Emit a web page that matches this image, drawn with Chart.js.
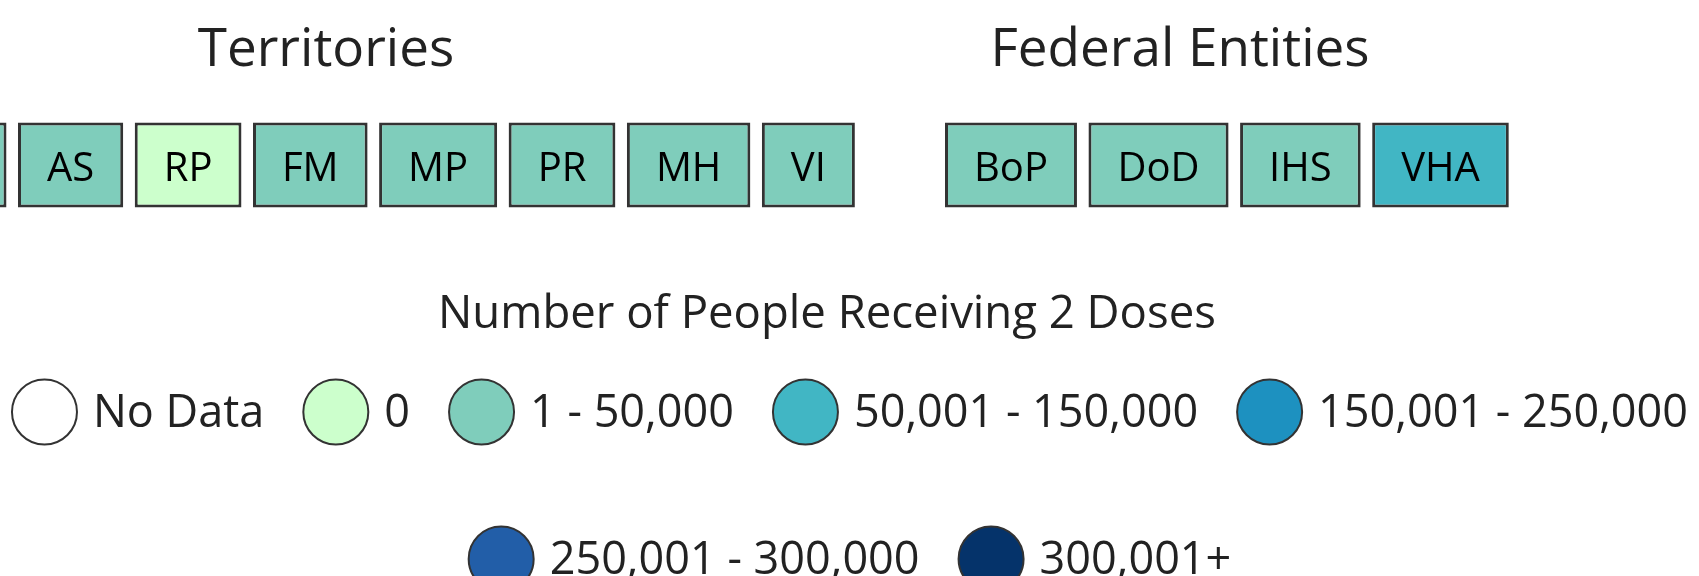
<!DOCTYPE html>
<html>
<head>
<meta charset="utf-8">
<title>Number of People Receiving 2 Doses</title>
<script src="https://cdn.jsdelivr.net/npm/chart.js@4"></script>
<style>
  html, body { margin: 0; padding: 0; background: #fff; }
  #wrap { width: 1699px; height: 576px; position: relative; }
</style>
</head>
<body>
<div id="wrap"><canvas id="tileChart"></canvas></div>
<script>
// legend bins and their fill colours
const bins = ['No Data', '0', '1 - 50,000', '50,001 - 150,000', '150,001 - 250,000', '250,001 - 300,000', '300,001+'];
const binColors = ['#ffffff', '#ccffcc', '#7fcdbb', '#41b6c4', '#1d91c0', '#225ea8', '#05336a'];

// tiles: label + index into bins
const territories = ['GU', 'AS', 'RP', 'FM', 'MP', 'PR', 'MH', 'VI'];
const territoryBins = [2, 2, 1, 2, 2, 2, 2, 2];
const federalEntities = ['BoP', 'DoD', 'IHS', 'VHA'];
const federalBins = [2, 2, 2, 3];

const groupTitles = ['Territories', 'Federal Entities'];
const legendTitle = 'Number of People Receiving 2 Doses';

const FONT = '"Open Sans", sans-serif';
const TILE_FONT = '40px ' + FONT;

// tile widths follow their text, like the original page
const measureCtx = document.createElement('canvas').getContext('2d');
measureCtx.font = TILE_FONT;
function layoutGroup(labels, anchorIndex, anchorLeft) {
  const widths = labels.map(l => measureCtx.measureText(l).width + 58);
  const lefts = [];
  let x = 0;
  widths.forEach(w => { lefts.push(x); x += w + 11.5; });
  const shift = anchorLeft - lefts[anchorIndex];
  return widths.map((w, i) => [lefts[i] + shift, lefts[i] + shift + w]);
}

const datasets = bins.map((b, i) => ({
  label: b,
  data: [],
  backgroundColor: binColors[i],
  borderColor: '#333333',
  borderWidth: 3,
  borderSkipped: false,
  inflateAmount: 0,
  grouped: false,
  barThickness: 85
}));

function addTiles(labels, binIdx, ranges) {
  labels.forEach((l, i) => {
    datasets[binIdx[i]].data.push({ x: ranges[i], y: 'tiles', tile: l });
  });
}
addTiles(territories, territoryBins, layoutGroup(territories, 1, 18));
addTiles(federalEntities, federalBins, layoutGroup(federalEntities, 0, 945));

const tileLabels = {
  id: 'tileLabels',
  afterDatasetsDraw(chart) {
    const ctx = chart.ctx;
    ctx.save();
    ctx.font = TILE_FONT;
    ctx.fillStyle = '#000';
    ctx.textAlign = 'center';
    ctx.textBaseline = 'alphabetic';
    chart.data.datasets.forEach((ds, i) => {
      chart.getDatasetMeta(i).data.forEach((bar, j) => {
        const p = bar.getProps(['x', 'base', 'y'], true);
        ctx.fillText(ds.data[j].tile, (p.x + p.base) / 2, p.y + 16);
      });
    });

    // group headings
    ctx.font = '53px ' + FONT;
    ctx.fillStyle = '#222';
    ctx.fillText(groupTitles[0], 326, 66);
    ctx.fillText(groupTitles[1], 1180, 66);
    ctx.restore();
  }
};

// legend drawn with big circles and wide row spacing
const binLegend = {
  id: 'binLegend',
  afterDraw(chart) {
    const ctx = chart.ctx;
    const items = chart.data.datasets.map(ds => ({ text: ds.label, fill: ds.backgroundColor }));
    ctx.save();
    ctx.fillStyle = '#222';
    ctx.textBaseline = 'alphabetic';
    ctx.textAlign = 'center';
    ctx.font = '45.5px ' + FONT;
    ctx.fillText(legendTitle, 827, 328);

    ctx.font = '45px ' + FONT;
    ctx.textAlign = 'left';
    const D = 67, gapText = 15, gapItem = 38;
    const rows = [[]];
    let rowW = 0;
    items.forEach(it => {
      const w = D + gapText + ctx.measureText(it.text).width;
      const cur = rows[rows.length - 1];
      if (cur.length && rowW + gapItem + w > chart.width) {
        rows.push([]);
        rowW = 0;
      }
      const row = rows[rows.length - 1];
      rowW += (row.length ? gapItem : 0) + w;
      row.push({ ...it, w });
    });
    const rowY = [412, 559];
    rows.forEach((row, r) => {
      const total = row.reduce((s, it) => s + it.w, 0) + gapItem * (row.length - 1);
      let x = chart.width / 2 - total / 2;
      const cy = rowY[r];
      row.forEach(it => {
        ctx.beginPath();
        ctx.arc(x + D / 2, cy, D / 2 - 1, 0, Math.PI * 2);
        ctx.fillStyle = it.fill;
        ctx.fill();
        ctx.lineWidth = 2;
        ctx.strokeStyle = '#333333';
        ctx.stroke();
        ctx.fillStyle = '#222';
        ctx.fillText(it.text, x + D + gapText, cy + 15);
        x += it.w + gapItem;
      });
    });
    ctx.restore();
  }
};

new Chart(document.getElementById('tileChart'), {
  type: 'bar',
  data: { labels: ['tiles'], datasets: datasets },
  options: {
    indexAxis: 'y',
    responsive: true,
    maintainAspectRatio: false,
    animation: false,
    layout: { padding: { left: 0, right: 0, top: 0, bottom: 246 } },
    scales: {
      x: { type: 'linear', min: 0, max: 1699, display: false },
      y: { type: 'category', offset: true, display: false }
    },
    plugins: {
      legend: { display: false },
      tooltip: { enabled: false },
      title: { display: false }
    }
  },
  plugins: [tileLabels, binLegend]
});
</script>
</body>
</html>
